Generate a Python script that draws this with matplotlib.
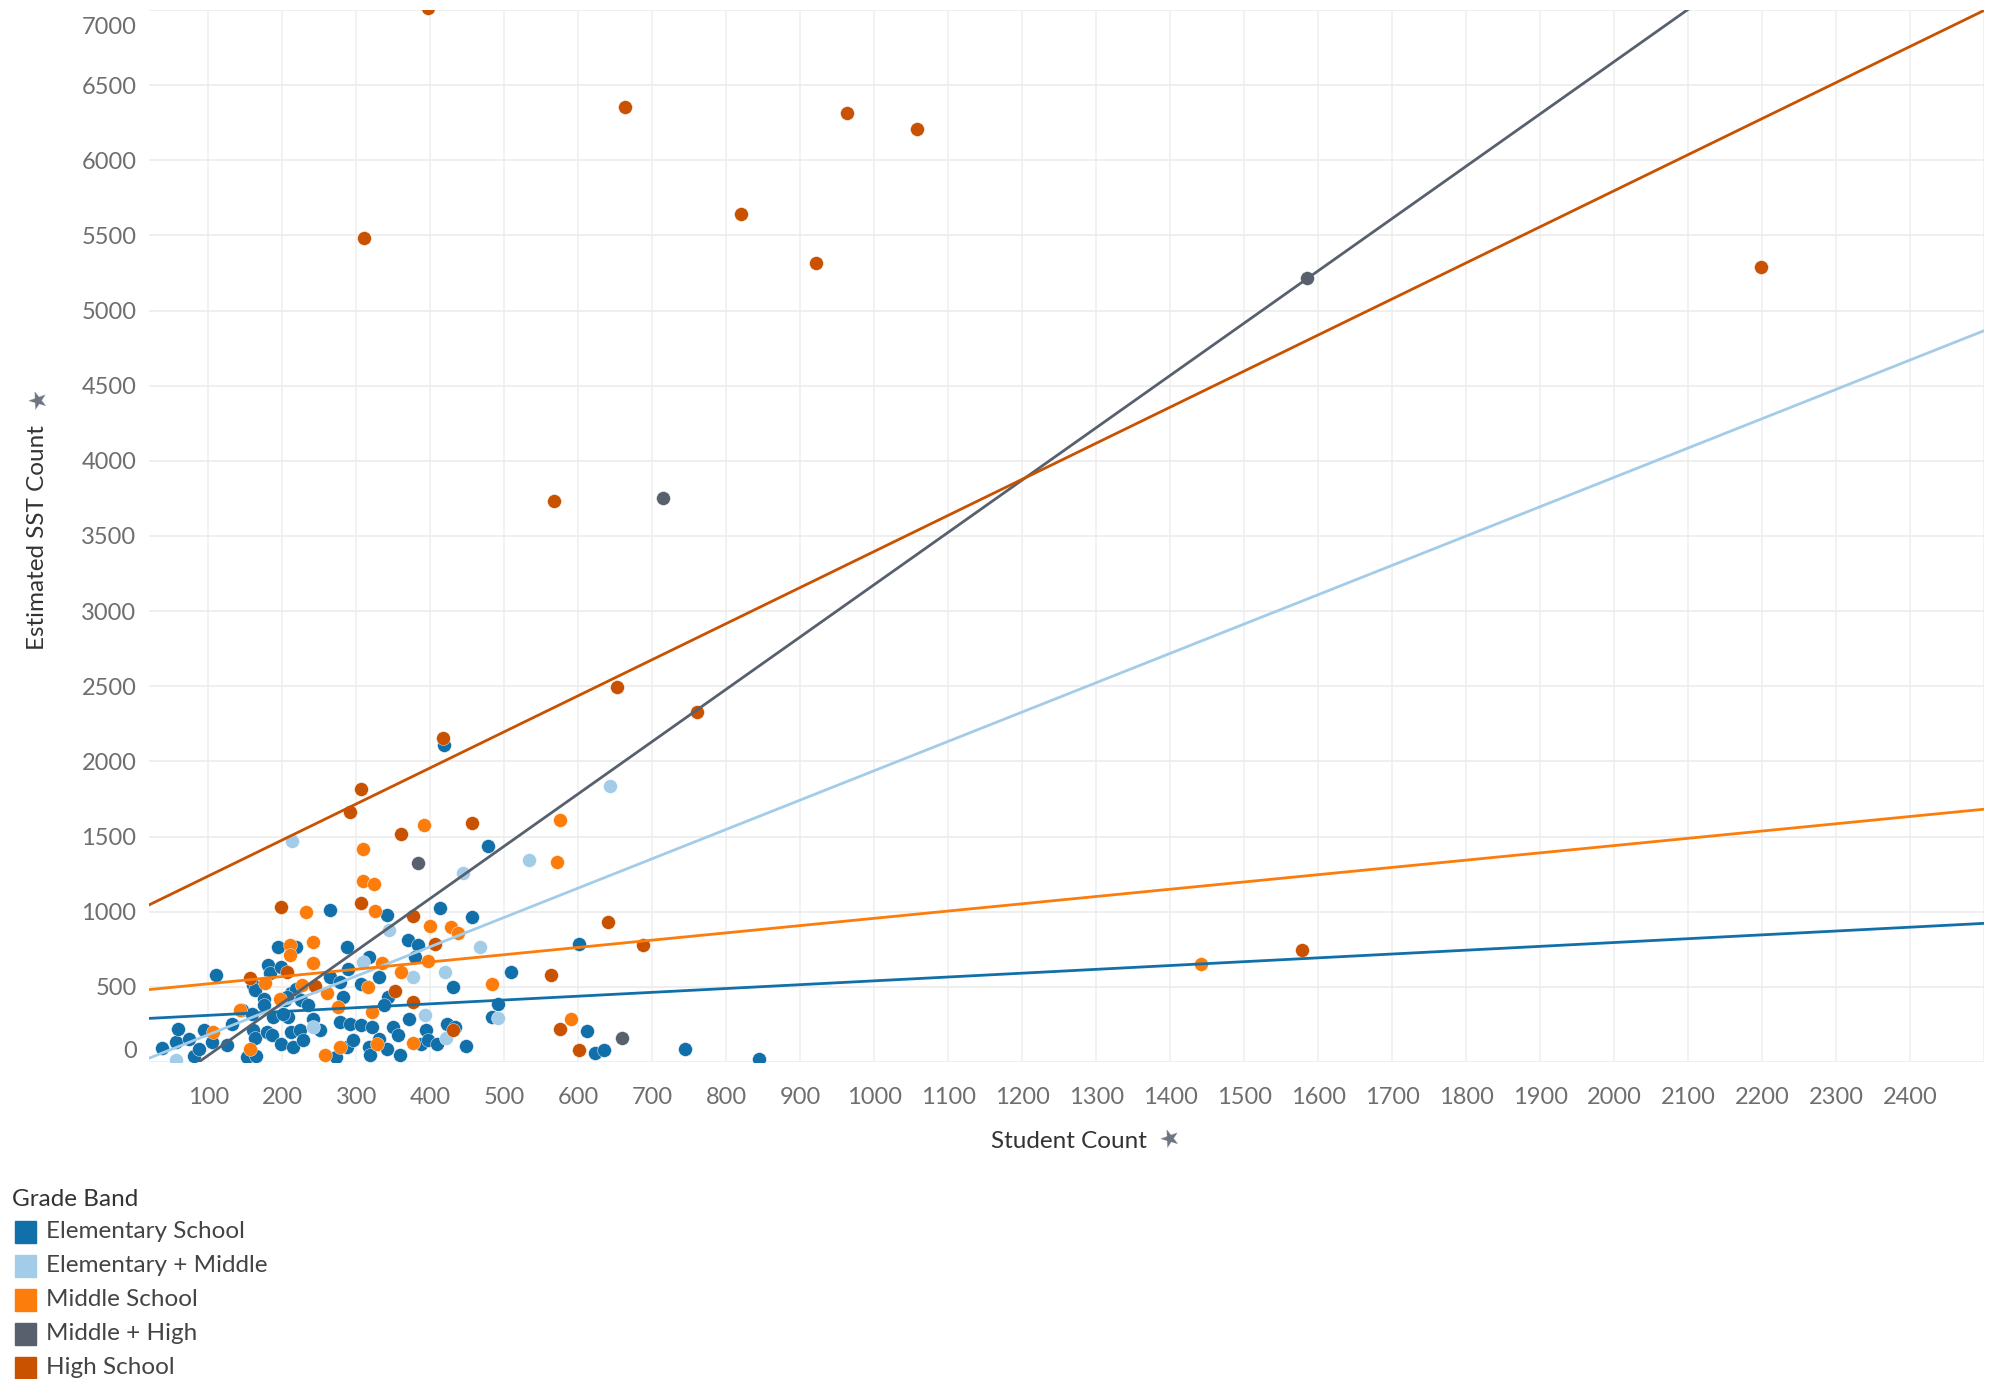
import numpy as np
import matplotlib.pyplot as plt
from matplotlib.patches import Rectangle
from matplotlib.transforms import ScaledTranslation

# Grade bands and colours (Tableau colour-blind palette)
bands = ['Elementary School', 'Elementary + Middle', 'Middle School', 'Middle + High', 'High School']
colors = ['#1170aa', '#a3cce9', '#fc7d0b', '#57606c', '#c85200']

# Elementary School  (student count, estimated SST count)
es_students = [37, 56, 59, 74, 81, 88, 94, 105, 110, 126, 132, 146, 159, 153, 164, 160, 163, 161, 163, 175,
               175, 179, 181, 183, 194, 199, 188, 186, 199, 208, 212, 219, 215, 204, 212, 219, 226, 224, 228, 242,
               251, 264, 264, 273, 278, 278, 282, 287, 289, 291, 287, 296, 307, 307, 318, 318, 321, 331, 331, 341,
               341, 350, 356, 359, 372, 370, 383, 379, 394, 388, 397, 409, 413, 423, 433, 449, 457, 431, 478, 419,
               601, 509, 492, 483, 612, 623, 635, 745, 844, 343, 337, 319, 206, 235, 201]
es_sst = [96, 133, 222, 156, 38, 89, 216, 133, 578, 111, 256, 349, 322, 33, 38, 216, 160, 511, 478, 422,
          378, 200, 644, 589, 767, 633, 300, 178, 122, 300, 200, 767, 100, 411, 456, 489, 411, 211, 144, 289,
          211, 1011, 567, 33, 533, 267, 433, 767, 622, 256, 100, 144, 522, 244, 700, 100, 233, 567, 156, 978,
          89, 233, 178, 44, 289, 811, 778, 700, 211, 122, 144, 122, 1022, 256, 233, 104, 962, 500, 1440, 2108,
          783, 600, 385, 300, 205, 60, 78, 89, 22, 434, 378, 45, 433, 378, 322]

# Elementary + Middle
em_students = [213, 643, 533, 444, 345, 57, 377, 393, 422, 467, 420, 309, 242, 492]
em_sst = [1471, 1834, 1345, 1260, 878, 16, 567, 311, 162, 767, 600, 667, 234, 296]

# Middle School
ms_students = [106, 156, 177, 210, 210, 197, 241, 241, 232, 260, 258, 276, 278, 309, 309, 324, 326, 316,
               321, 335, 328, 361, 377, 391, 400, 397, 428, 438, 483, 572, 575, 590, 227, 143, 1442]
ms_sst = [200, 89, 527, 778, 711, 422, 800, 660, 1000, 456, 44, 367, 100, 1418, 1207, 1184, 1004, 500,
          333, 660, 122, 600, 127, 1578, 904, 673, 900, 856, 522, 1333, 1611, 289, 511, 349, 649]

# Middle + High
mh_students = [384, 659, 715, 1585]
mh_sst = [1323, 160, 3750, 5218]

# High School
hs_students = [292, 307, 361, 457, 199, 307, 377, 407, 156, 206, 244, 353, 377, 431, 563, 575, 601, 640,
               688, 417, 653, 761, 1578, 310, 397, 663, 963, 1058, 820, 922, 2198, 567]
hs_sst = [1662, 1816, 1516, 1589, 1033, 1056, 971, 784, 560, 600, 505, 471, 400, 211, 578, 222, 78, 933,
          778, 2159, 2496, 2327, 742, 5482, 7010, 6356, 6316, 6209, 5645, 5314, 5292, 3730]

# linear trend lines per band (slope, intercept) as shown in the chart
trend_slope = [0.255, 1.952, 0.484, 3.48, 2.40]
trend_intercept = [285, -14, 472, -304, 997]

xs = [es_students, em_students, ms_students, mh_students, hs_students]
ys = [es_sst, em_sst, ms_sst, mh_sst, hs_sst]

plt.rcParams['font.family'] = ['Lato', 'DejaVu Sans']

W, H = 1995, 1379
fig = plt.figure(figsize=(W / 100, H / 100), dpi=100)
ax = fig.add_axes([149 / W, 1 - 1062 / H, (1984 - 149) / W, (1062 - 10) / H])

for i in range(len(bands)):
    ax.scatter(xs[i], ys[i], s=100, color=colors[i], edgecolors='white', linewidths=0.3, zorder=2)

line_x = np.array([20, 2500])
for i in range(len(bands)):
    ax.plot(line_x, trend_slope[i] * line_x + trend_intercept[i], color=colors[i], lw=2.0, zorder=3)

ax.set_xlim(20, 2500)
ax.set_ylim(0, 7000)
ax.set_xticks(np.arange(100, 2500, 100), labels=[str(v) for v in range(100, 2500, 100)])
ax.set_xticks(np.arange(100, 2600, 100), minor=True)
ax.set_yticks(np.arange(0, 7001, 500), labels=[str(v) for v in range(0, 7001, 500)])
ax.grid(True, which='both', axis='x', color='#f0f0f0', lw=1.2, zorder=0)
ax.grid(True, axis='y', color='#ececec', lw=1.2, zorder=0)
ax.set_axisbelow(True)
for s in ax.spines.values():
    s.set_visible(False)
ax.tick_params(axis='both', which='both', length=0, labelsize=17, labelcolor='#6e6e6e')
ax.tick_params(axis='x', pad=18)
ax.tick_params(axis='y', pad=9)
for lbl in ax.get_yticklabels():
    if lbl.get_text() == '0':
        lbl.set_transform(lbl.get_transform() + ScaledTranslation(0, 13 / 100, fig.dpi_scale_trans))
    elif lbl.get_text() == '7000':
        lbl.set_transform(lbl.get_transform() + ScaledTranslation(0, -16 / 100, fig.dpi_scale_trans))

# axis titles with pin icons
fig.text(1069 / W, 1 - 1141 / H, 'Student Count', ha='center', va='center', fontsize=17.5, color='#333333')
fig.text(1170 / W, 1 - 1139 / H, '\u2605', ha='center', va='center', fontsize=17, color='#6b7480',
         family='DejaVu Sans', rotation=20)
fig.text(38 / W, 1 - 538 / H, 'Estimated SST Count', ha='center', va='center', rotation=90,
         fontsize=17.5, color='#333333')
fig.text(38 / W, 1 - 401 / H, '\u2605', ha='center', va='center', fontsize=17, color='#6b7480',
         family='DejaVu Sans', rotation=20)

# legend
fig.text(12 / W, 1 - 1200 / H, 'Grade Band', ha='left', va='center', fontsize=17.5, color='#333333')
for i, name in enumerate(bands):
    yc = 1232 + i * 34
    fig.patches.append(Rectangle((15 / W, 1 - (yc + 11) / H), 21 / W, 22 / H,
                                 transform=fig.transFigure, color=colors[i]))
    fig.text(46 / W, 1 - yc / H, name, ha='left', va='center', fontsize=17.5, color='#444444')

fig.savefig('out.png', dpi=100, facecolor='white')
